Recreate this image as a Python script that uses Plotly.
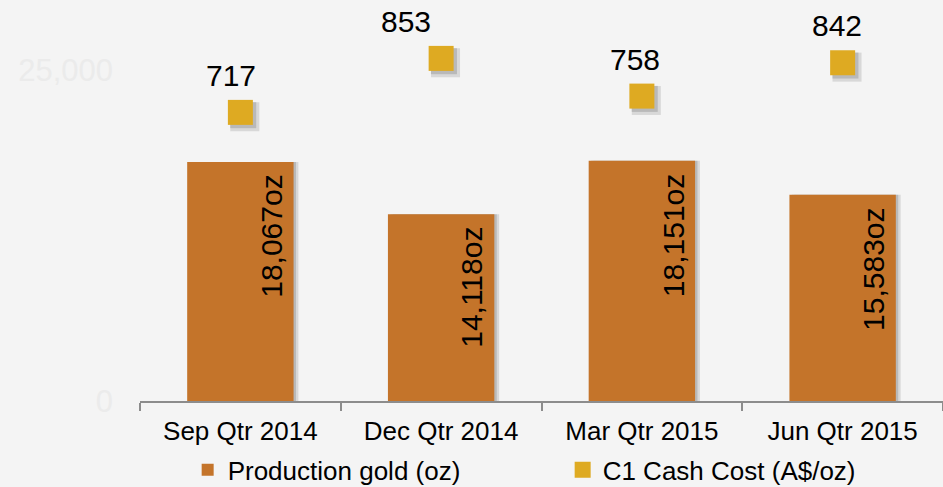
import plotly.graph_objects as go

categories = ["Sep Qtr 2014", "Dec Qtr 2014", "Mar Qtr 2015", "Jun Qtr 2015"]
production_oz = [18067, 14118, 18151, 15583]
c1_cash_cost = [717, 853, 758, 842]
y_tick_vals = [0, 25000]
y_tick_text = ["0", "25,000"]

# style: horizontal pixel offsets of the cash-cost labels
cost_label_xshift = [-9, -35, -7, -6]

xpos = list(range(len(categories)))
BAR_COLOR = "#C4742A"
SQ_COLOR = "#DEAA22"
BG = "#F4F4F4"
FONT = "Liberation Sans, Arial, sans-serif"

fig = go.Figure()

# bar shadows
fig.add_trace(go.Bar(
    x=[p + 0.024 for p in xpos], y=[v + 300 for v in production_oz], base=-300,
    width=0.53, marker=dict(color="rgba(90,90,90,0.18)", line=dict(width=0)),
    showlegend=False, hoverinfo="skip"))
fig.add_trace(go.Bar(
    x=[p + 0.012 for p in xpos], y=[v + 150 for v in production_oz], base=-150,
    width=0.53, marker=dict(color="rgba(90,90,90,0.25)", line=dict(width=0)),
    showlegend=False, hoverinfo="skip"))
fig.add_trace(go.Bar(
    x=xpos, y=production_oz, width=0.53, name="Production gold (oz)",
    marker=dict(color=BAR_COLOR, line=dict(width=0))))

# square shadows
fig.add_trace(go.Scatter(
    x=[p + 0.022 for p in xpos], y=[v - 11 for v in c1_cash_cost], yaxis="y2",
    mode="markers", marker=dict(symbol="square", size=29, color="rgba(90,90,90,0.18)"),
    showlegend=False, hoverinfo="skip"))
fig.add_trace(go.Scatter(
    x=[p + 0.014 for p in xpos], y=[v - 7 for v in c1_cash_cost], yaxis="y2",
    mode="markers", marker=dict(symbol="square", size=26, color="rgba(90,90,90,0.25)"),
    showlegend=False, hoverinfo="skip"))
fig.add_trace(go.Scatter(
    x=xpos, y=c1_cash_cost, yaxis="y2", mode="markers",
    name="C1 Cash Cost (A$/oz)",
    marker=dict(symbol="square", size=25, color=SQ_COLOR)))

for p, v, xs in zip(xpos, c1_cash_cost, cost_label_xshift):
    fig.add_annotation(
        x=p, y=v, xref="x", yref="y2", text=str(v), showarrow=False,
        xanchor="center", yanchor="middle", xshift=xs, yshift=37,
        font=dict(size=30, color="#000000", family=FONT))

for p, v in zip(xpos, production_oz):
    fig.add_annotation(
        x=p, y=v, xref="x", yref="y", text=f"{v:,}oz", showarrow=False,
        textangle=-90, xanchor="center", yanchor="top", xshift=31, yshift=-11,
        font=dict(size=30, color="#000000", family=FONT))

fig.update_layout(
    width=943, height=487, barmode="overlay",
    paper_bgcolor=BG, plot_bgcolor=BG,
    margin=dict(l=140, r=0, t=4, b=86, autoexpand=False),
    font=dict(family=FONT, color="#000000"),
    xaxis=dict(range=[-0.5, 3.5], tickvals=xpos, ticktext=categories,
               ticks="", showgrid=False, zeroline=False,
               showline=True, linecolor="#8C8C8C", linewidth=2,
               tickfont=dict(size=26, color="#000000"), ticklabelstandoff=6,
               minor=dict(tickvals=[-0.5, 0.5, 1.5, 2.5, 3.5], ticks="outside",
                          ticklen=8, tickcolor="#8C8C8C", tickwidth=2, showgrid=False)),
    yaxis=dict(range=[0, 30000], tickvals=y_tick_vals, ticktext=y_tick_text,
               showgrid=False, zeroline=False, showline=False,
               tickfont=dict(size=31, color="#EBEBEB"), ticks="",
               ticklabelstandoff=26),
    yaxis2=dict(range=[-10, 990], overlaying="y", side="right", visible=False),
    legend=dict(orientation="h", xref="container", yref="container",
                x=0.199, y=0.035, xanchor="left", yanchor="middle",
                font=dict(size=26, color="#000000"), entrywidth=330,
                bgcolor="rgba(0,0,0,0)", traceorder="normal"),
    showlegend=True,
)

fig.write_html("out.html", config={"displayModeBar": False},
               post_script="document.body.style.margin='0';")
